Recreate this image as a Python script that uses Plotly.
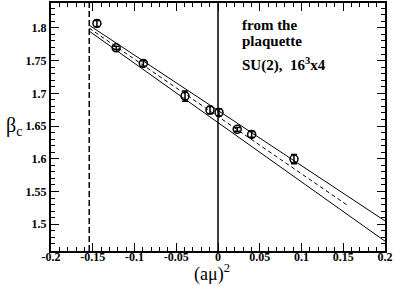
import plotly.graph_objects as go

# data
amu2 = [-0.145, -0.122, -0.0894, -0.0395, -0.0096, 0.0012, 0.023, 0.0403, 0.091]
beta_c = [1.8067, 1.7695, 1.7457, 1.6957, 1.6744, 1.6708, 1.6449, 1.6372, 1.5995]
beta_err = [0.0045, 0.0025, 0.0042, 0.0080, 0.0055, 0.0055, 0.0030, 0.0045, 0.0070]

band_x = [-0.1542, 0.2]
band_upper = [1.8040, 1.5050]
band_lower = [1.7950, 1.4740]
fit_x = [-0.1542, 0.156]
fit_y = [1.7995, 1.5280]

crit_x = -0.1542

xticks = [-0.2, -0.15, -0.1, -0.05, 0, 0.05, 0.1, 0.15, 0.2]
xticklabels = ["-0.2", "-0.15", "-0.1", "-0.05", "0", "0.05", "0.1", "0.15", "0.2"]
yticks = [1.5, 1.55, 1.6, 1.65, 1.7, 1.75, 1.8]
yticklabels = ["1.5", "1.55", "1.6", "1.65", "1.7", "1.75", "1.8"]

label_lines = ["from the", "plaquette", "SU(2),  16<sup>3</sup>x4"]
label_y = [1.8045, 1.7805, 1.7445]

xr = [-0.2, 0.2]
yr = [1.459, 1.838]

SERIF = "'Liberation Serif', 'Times New Roman', Times, serif"

fig = go.Figure()
fig.add_trace(go.Scatter(x=band_x, y=band_upper, mode="lines",
                         line=dict(color="black", width=1)))
fig.add_trace(go.Scatter(x=band_x, y=band_lower, mode="lines",
                         line=dict(color="black", width=1)))
fig.add_trace(go.Scatter(x=fit_x, y=fit_y, mode="lines",
                         line=dict(color="black", width=1, dash="4px,3px")))
fig.add_trace(go.Scatter(x=[crit_x, crit_x], y=yr, mode="lines",
                         line=dict(color="black", width=1.5, dash="6px,3px")))
fig.add_trace(go.Scatter(x=[0, 0], y=yr, mode="lines",
                         line=dict(color="black", width=1.5)))
fig.add_trace(go.Scatter(x=amu2, y=beta_c, mode="markers",
                         marker=dict(symbol="circle-open", size=8, color="black",
                                     line=dict(width=1.5, color="black")),
                         error_y=dict(type="data", array=beta_err, color="black",
                                      thickness=1.5, width=3)))

tickfont = dict(family=SERIF, size=12, color="black", weight="bold")
fig.update_xaxes(range=xr, tickvals=xticks, ticktext=xticklabels, ticks="inside",
                 ticklen=8, tickwidth=1.2, tickcolor="black", mirror="allticks",
                 showline=True, linecolor="black", linewidth=2, showgrid=False,
                 zeroline=False, tickfont=tickfont, automargin=False,
                 ticklabelstandoff=-6,
                 minor=dict(dtick=0.01, ticks="inside", ticklen=4, tickcolor="black",
                            tickwidth=1, showgrid=False))
fig.update_yaxes(range=yr, tickvals=yticks, ticktext=yticklabels, ticks="inside",
                 ticklen=8, tickwidth=1.2, tickcolor="black", mirror="allticks",
                 showline=True, linecolor="black", linewidth=2, showgrid=False,
                 zeroline=False, tickfont=tickfont, automargin=False,
                 minor=dict(tick0=1.5, dtick=0.01, ticks="inside", ticklen=4,
                            tickcolor="black", tickwidth=1, showgrid=False))

annotations = [
    dict(x=0.026, y=yv, xref="x", yref="y", xanchor="left", yanchor="middle",
         text="<b>" + t + "</b>", showarrow=False, align="left",
         font=dict(family=SERIF, size=15, color="black"))
    for t, yv in zip(label_lines, label_y)
]
annotations += [
    dict(x=(212 - 51) / 334, y=-(273 - 251) / 248, xref="paper", yref="paper",
         yanchor="middle", text="(aμ)<sup>2</sup>", showarrow=False,
         font=dict(family=SERIF, size=18, color="black")),
    dict(x=0.0, y=1.65, xref="paper", yref="y", text="β<sub>c</sub>",
         xanchor="left", showarrow=False, xshift=-47,
         font=dict(family=SERIF, size=20, color="black")),
]

fig.update_layout(
    width=395, height=286,
    margin=dict(l=51, r=10, t=3, b=35),
    plot_bgcolor="white", paper_bgcolor="white",
    showlegend=False,
    font=dict(family=SERIF, color="black"),
    annotations=annotations,
)

fig.write_html("out.html", config={"displayModeBar": False},
               post_script="document.body.style.margin='0';document.body.style.padding='0';")
